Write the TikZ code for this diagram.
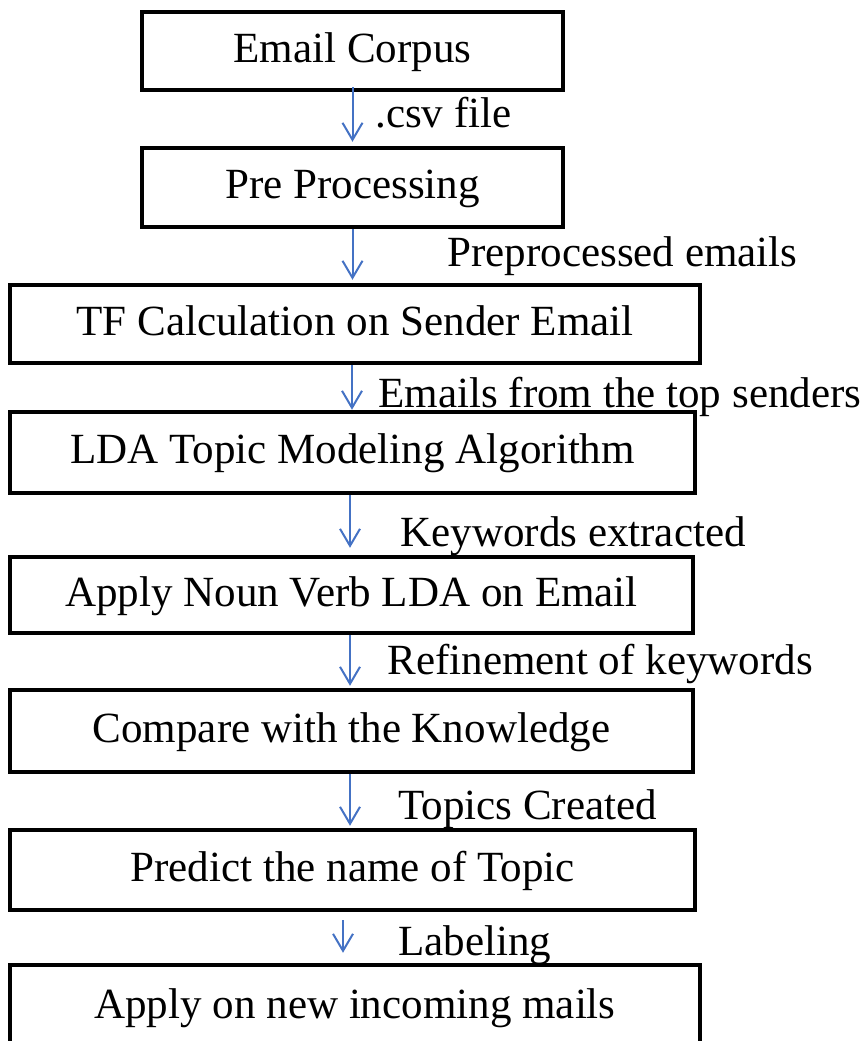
\documentclass[tikz,border=0pt]{standalone}
\usepackage{xcolor}
\usepackage{fontspec}
\setmainfont{Liberation Serif}
\usetikzlibrary{arrows.meta, positioning}

\definecolor{arrowblue}{RGB}{68,114,196}

\begin{document}
\begin{tikzpicture}[
    x=0.02cm, y=-0.02cm,
    stagebox/.style={draw, line width=0.09cm, inner sep=0pt, text height=18pt, text depth=5pt, font=\fontsize{24.5}{29}\selectfont},
    flowarrow/.style={-{Straight Barb[length=0.34cm, width=0.4cm]}, line width=0.04cm, arrowblue},
    flowlabel/.style={anchor=base west, inner sep=0pt, font=\fontsize{24.5}{29}\selectfont}
]
\useasboundingbox (0,0) rectangle (863,1041);

% --- Stages (one column) ---
\node[stagebox, minimum width=8.42cm, minimum height=1.56cm] (corpus) at (352.5,51) {Email Corpus};
\node[stagebox, minimum width=8.42cm, minimum height=1.58cm] (prep) at (352.5,187.5) {Pre Processing};
\node[stagebox, minimum width=13.8cm, minimum height=1.56cm] (tfcalc) at (355,324) {TF Calculation on Sender Email};
\node[stagebox, minimum width=13.7cm, minimum height=1.62cm] (lda) at (352.5,452.5) {LDA Topic Modeling Algorithm};
\node[stagebox, minimum width=13.66cm, minimum height=1.52cm] (nvlda) at (351.5,595) {Apply Noun Verb LDA on Email};
\node[stagebox, minimum width=13.66cm, minimum height=1.64cm] (compare) at (351.5,731) {Compare with the Knowledge};
\node[stagebox, minimum width=13.7cm, minimum height=1.6cm] (predict) at (352.5,870) {Predict the name of Topic};
\node[stagebox, minimum width=13.8cm, minimum height=1.7cm] (apply) at (355,1007.5) {Apply on new incoming mails};

% --- Flow arrows ---
\draw[flowarrow, shorten <=-0.1cm, shorten >=0.08cm] (corpus.south) -- (prep.north);
\draw[flowarrow, shorten >=0.06cm] (prep.south) -- (prep.south |- tfcalc.north);
\draw[flowarrow] ([xshift=-0.06cm]tfcalc.south) -- ([xshift=-0.06cm]tfcalc.south |- lda.north);
\draw[flowarrow, shorten >=0.14cm] ([xshift=-0.05cm]lda.south) -- ([xshift=-0.05cm]lda.south |- nvlda.north);
\draw[flowarrow, shorten >=0.04cm] ([xshift=-0.03cm]nvlda.south) -- ([xshift=-0.03cm]nvlda.south |- compare.north);
\draw[flowarrow, shorten >=0.04cm] ([xshift=-0.03cm]compare.south) -- ([xshift=-0.03cm]compare.south |- predict.north);
\draw[flowarrow, shorten <=0.16cm, shorten >=0.2cm] ([xshift=-0.19cm]predict.south) -- ([xshift=-0.19cm]predict.south |- apply.north);

% --- Arrow labels ---
\node[flowlabel] (csvlbl) at (375,127) {.csv file};
\node[flowlabel] (preplbl) at (447,266) {Preprocessed emails};
\node[flowlabel] (sendlbl) at (378,407) {Emails from the top senders};
\node[flowlabel] (keylbl) at (400,546) {Keywords extracted};
\node[flowlabel] (reflbl) at (387,674) {Refinement of keywords};
\node[flowlabel] (topiclbl) at (398,819) {Topics Created};
\node[flowlabel] (labellbl) at (398,955) {Labeling};

\end{tikzpicture}
\end{document}
